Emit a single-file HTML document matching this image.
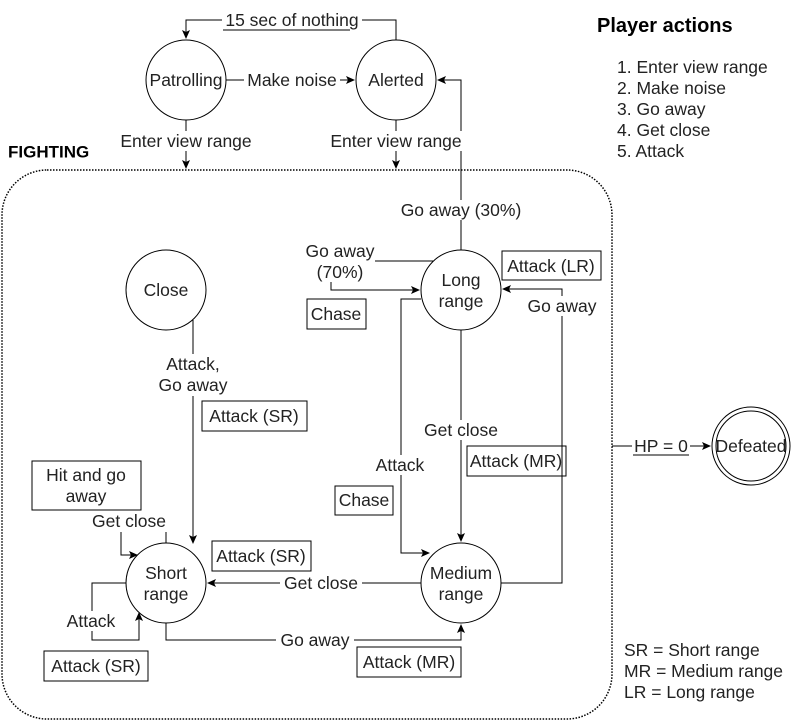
<!DOCTYPE html>
<html><head><meta charset="utf-8"><style>
html,body{margin:0;padding:0;background:#fff;}
svg{display:block;font-family:"Liberation Sans",Arial,sans-serif;}
</style></head><body>
<svg width="802" height="721" viewBox="0 0 802 721" xmlns="http://www.w3.org/2000/svg">
<defs>
<marker id="a" markerWidth="10" markerHeight="10" refX="8" refY="5" orient="auto" markerUnits="userSpaceOnUse">
<path d="M0,1 L9,5 L0,9 L2,5 Z" fill="#000"/></marker>
</defs>
<g fill="none" stroke="#000" stroke-width="1">
<rect x="2" y="170" width="610" height="549" rx="45" ry="45" stroke-dasharray="1.5,1.5" stroke-width="1.5"/>
<circle cx="186" cy="80" r="40"/>
<circle cx="396" cy="80" r="40"/>
<circle cx="166" cy="290" r="40"/>
<circle cx="461" cy="290" r="40"/>
<circle cx="166" cy="583" r="40"/>
<circle cx="461" cy="583" r="40"/>
<circle cx="751" cy="446" r="39"/>
<circle cx="751" cy="446" r="35"/>
<path d="M396,40 V20 H186 V38" marker-end="url(#a)"/>
<path d="M226,80 H354" marker-end="url(#a)"/>
<path d="M186,120 V168" marker-end="url(#a)"/>
<path d="M396,120 V168" marker-end="url(#a)"/>
<path d="M461,250 V80 H438" marker-end="url(#a)"/>
<path d="M375,261 H433"/>
<path d="M331,282 V290 H419" marker-end="url(#a)"/>
<path d="M421,299 H401 V553 H429" marker-end="url(#a)"/>
<path d="M461,330 V541" marker-end="url(#a)"/>
<path d="M501,583 H562 V289 H503" marker-end="url(#a)"/>
<path d="M421,583 H208" marker-end="url(#a)"/>
<path d="M166,623 V640 H461 V625" marker-end="url(#a)"/>
<path d="M126,583 H92 V640 H139 V613" marker-end="url(#a)"/>
<path d="M166,532 V543"/>
<path d="M121,532 V555 H137" marker-end="url(#a)"/>
<path d="M193,320 V543" marker-end="url(#a)"/>
<path d="M612,446 H710" marker-end="url(#a)"/>
<rect x="307" y="299" width="59" height="30"/>
<rect x="502" y="251" width="99" height="29"/>
<rect x="467" y="446" width="99" height="30"/>
<rect x="335" y="486" width="58" height="29"/>
<rect x="202" y="401" width="105" height="30"/>
<rect x="32" y="461" width="109" height="49"/>
<rect x="212" y="541" width="99" height="30"/>
<rect x="44" y="651" width="104" height="30"/>
<rect x="357" y="647" width="104" height="30"/>
</g>
<g font-size="17.5" fill="#222" text-anchor="middle" dominant-baseline="central">
<rect x="222" y="10" width="140" height="20" fill="#fff"/>
<text x="292" y="20">15 sec of nothing</text>
<path d="M223,30 H350" stroke="#000"/>
<text x="186" y="80">Patrolling</text>
<text x="396" y="80">Alerted</text>
<rect x="244" y="70" width="96" height="20" fill="#fff"/>
<text x="292" y="80">Make noise</text>
<rect x="116" y="131" width="140" height="20" fill="#fff"/>
<text x="186" y="141">Enter view range</text>
<rect x="326" y="131" width="140" height="20" fill="#fff"/>
<text x="396" y="141">Enter view range</text>
<text x="8" y="152" text-anchor="start" font-weight="bold" font-size="17" fill="#000">FIGHTING</text>
<text x="166" y="290">Close</text>
<text x="461" y="280">Long</text>
<text x="461" y="301">range</text>
<text x="166" y="573">Short</text>
<text x="166" y="594">range</text>
<text x="461" y="573">Medium</text>
<text x="461" y="594">range</text>
<text x="751" y="446">Defeated</text>
<rect x="398" y="200" width="128" height="20" fill="#fff"/>
<text x="461" y="210">Go away (30%)</text>
<text x="340" y="251">Go away</text>
<text x="340" y="272">(70%)</text>
<text x="336" y="314">Chase</text>
<text x="551" y="266">Attack (LR)</text>
<rect x="524" y="296" width="76" height="20" fill="#fff"/>
<text x="562" y="306">Go away</text>
<rect x="418" y="420" width="86" height="20" fill="#fff"/>
<text x="461" y="430">Get close</text>
<text x="516" y="461">Attack (MR)</text>
<rect x="372" y="455" width="56" height="20" fill="#fff"/>
<text x="400" y="465">Attack</text>
<text x="364" y="500">Chase</text>
<rect x="155" y="354" width="76" height="42" fill="#fff"/>
<text x="193" y="364">Attack,</text>
<text x="193" y="385">Go away</text>
<text x="254" y="416">Attack (SR)</text>
<text x="86" y="475">Hit and go</text>
<text x="86" y="496">away</text>
<text x="129" y="521">Get close</text>
<text x="261" y="556">Attack (SR)</text>
<rect x="280" y="573" width="82" height="20" fill="#fff"/>
<text x="321" y="583">Get close</text>
<rect x="276" y="630" width="78" height="20" fill="#fff"/>
<text x="315" y="640">Go away</text>
<rect x="64" y="611" width="56" height="20" fill="#fff"/>
<text x="91" y="621">Attack</text>
<text x="96" y="666">Attack (SR)</text>
<text x="409" y="662">Attack (MR)</text>
<rect x="632" y="436" width="58" height="20" fill="#fff"/>
<text x="661" y="446">HP = 0</text>
<path d="M633,455 H689" stroke="#000"/>
</g>
<g font-size="17.5" fill="#222" text-anchor="start" dominant-baseline="central">
<text x="597" y="26" font-size="20" font-weight="bold" fill="#000">Player actions</text>
<text x="617" y="67">1. Enter view range</text>
<text x="617" y="88">2. Make noise</text>
<text x="617" y="109">3. Go away</text>
<text x="617" y="130">4. Get close</text>
<text x="617" y="151">5. Attack</text>
<text x="624" y="650">SR = Short range</text>
<text x="624" y="671">MR = Medium range</text>
<text x="624" y="692">LR = Long range</text>
</g>
</svg>
</body></html>
